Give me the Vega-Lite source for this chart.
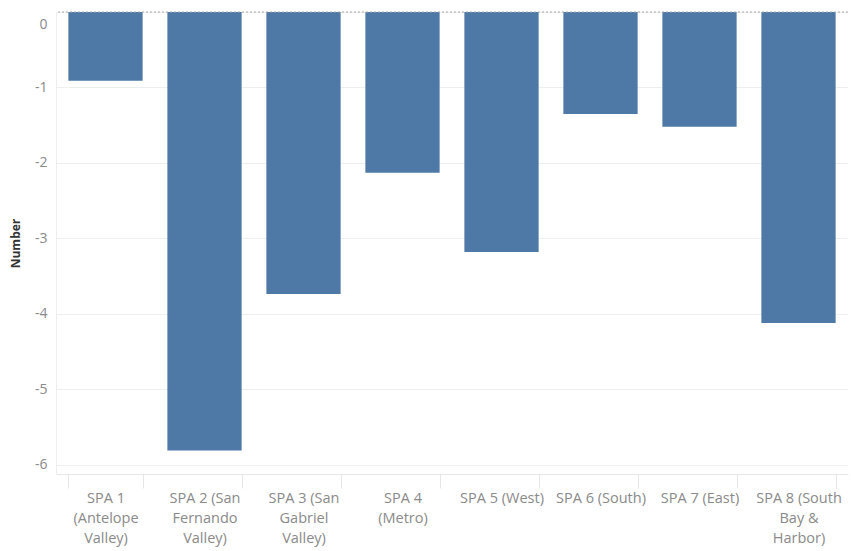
{
  "$schema": "https://vega.github.io/schema/vega-lite/v6.json",
  "width": 792,
  "height": 462,
  "autosize": {"type": "none"},
  "padding": {"left": 56, "top": 12, "right": 3, "bottom": 77},
  "background": "white",
  "config": {
    "view": {"stroke": null},
    "font": "Open Sans"
  },
  "data": {
    "values": [
      {"spa": "SPA 1|(Antelope|Valley)", "value": -0.91},
      {"spa": "SPA 2 (San|Fernando|Valley)", "value": -5.81},
      {"spa": "SPA 3 (San|Gabriel|Valley)", "value": -3.735},
      {"spa": "SPA 4|(Metro)", "value": -2.13},
      {"spa": "SPA 5 (West)", "value": -3.18},
      {"spa": "SPA 6 (South)", "value": -1.35},
      {"spa": "SPA 7 (East)", "value": -1.52},
      {"spa": "SPA 8 (South|Bay &|Harbor)", "value": -4.12}
    ]
  },
  "layer": [
    {
      "mark": {"type": "bar", "color": "#4e79a7"},
      "encoding": {
        "x": {
          "field": "spa",
          "type": "nominal",
          "sort": null,
          "scale": {"paddingInner": 0.25, "paddingOuter": 0.125},
          "axis": {
            "title": null,
            "labelAngle": 0,
            "labelExpr": "split(datum.label, '|')",
            "labelFontSize": 14.5,
            "labelColor": "#8a8a8a",
            "labelLineHeight": 20,
            "labelPadding": 3,
            "labelBaseline": "top",
            "tickBand": "extent",
            "tickColor": "#e6e6e6",
            "tickSize": 14,
            "domainColor": "#e6e6e6",
            "labelLimit": 120
          }
        },
        "y": {
          "field": "value",
          "type": "quantitative",
          "scale": {"domain": [-6.12, 0], "nice": false, "zero": false},
          "axis": {
            "title": "Number",
            "titleFontSize": 12,
            "titleFontWeight": "bold",
            "titleColor": "#333333",
            "titlePadding": 12,
            "labelExpr": "toString(datum.value)",
            "values": [0, -1, -2, -3, -4, -5, -6],
            "labelFontSize": 14,
            "labelColor": "#8a8a8a",
            "labelPadding": 9,
            "labelFlush": true,
            "labelFlushOffset": -5,
            "ticks": false,
            "gridColor": "#eeeeee",
            "domainColor": "#eeeeee"
          }
        }
      }
    },
    {
      "data": {"values": [{"z": 0}]},
      "mark": {"type": "rule", "color": "#aaaaaa", "strokeDash": [2, 2], "strokeWidth": 1},
      "encoding": {"y": {"field": "z", "type": "quantitative"}}
    }
  ]
}
